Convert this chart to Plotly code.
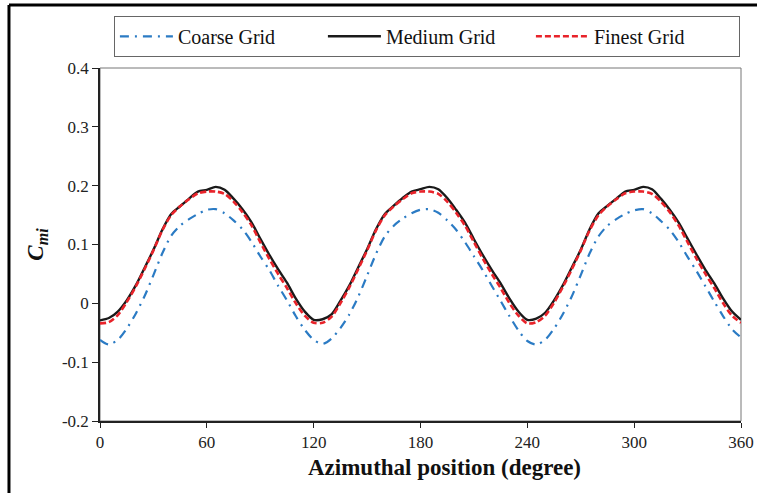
import plotly.graph_objects as go

# Azimuthal position (degree), sampled every 5 degrees over one revolution
azimuth = list(range(0, 365, 5))

# Moment coefficient C_mi for each grid resolution
coarse_grid = [
    -0.062, -0.070, -0.062, -0.043, -0.018, 0.012, 0.048, 0.085, 0.115, 0.132, 0.143, 0.152, 0.159,
    0.160, 0.153, 0.141, 0.126, 0.105, 0.080, 0.057, 0.030, 0.005, -0.022, -0.045,
    -0.062, -0.069, -0.060, -0.042, -0.019, 0.011, 0.047, 0.084, 0.114, 0.132, 0.144, 0.153, 0.159,
    0.160, 0.154, 0.141, 0.125, 0.104, 0.080, 0.056, 0.030, 0.004, -0.022, -0.046,
    -0.064, -0.070, -0.062, -0.043, -0.018, 0.012, 0.048, 0.085, 0.114, 0.132, 0.143, 0.152, 0.158,
    0.160, 0.153, 0.140, 0.125, 0.104, 0.079, 0.055, 0.029, 0.003, -0.022, -0.044, -0.058,
]
medium_grid = [
    -0.029, -0.025, -0.014, 0.005, 0.030, 0.060, 0.091, 0.125, 0.152, 0.165, 0.178, 0.190, 0.193,
    0.198, 0.193, 0.178, 0.160, 0.138, 0.110, 0.083, 0.058, 0.035, 0.008, -0.014,
    -0.028, -0.027, -0.019, 0.004, 0.030, 0.061, 0.092, 0.126, 0.152, 0.166, 0.179, 0.190, 0.194,
    0.198, 0.194, 0.179, 0.159, 0.137, 0.109, 0.082, 0.057, 0.034, 0.008, -0.014,
    -0.028, -0.026, -0.016, 0.005, 0.031, 0.061, 0.091, 0.126, 0.153, 0.166, 0.178, 0.190, 0.193,
    0.198, 0.194, 0.178, 0.159, 0.137, 0.110, 0.083, 0.057, 0.034, 0.008, -0.014, -0.028,
]
finest_grid = [
    -0.034, -0.032, -0.020, 0.002, 0.028, 0.058, 0.090, 0.124, 0.150, 0.165, 0.177, 0.187, 0.190,
    0.190, 0.186, 0.173, 0.155, 0.133, 0.104, 0.076, 0.050, 0.026, 0.000, -0.021,
    -0.033, -0.033, -0.023, 0.000, 0.027, 0.058, 0.090, 0.124, 0.150, 0.165, 0.177, 0.187, 0.190,
    0.190, 0.186, 0.173, 0.154, 0.132, 0.104, 0.076, 0.050, 0.026, 0.000, -0.021,
    -0.034, -0.032, -0.021, 0.001, 0.028, 0.058, 0.090, 0.124, 0.150, 0.165, 0.177, 0.187, 0.190,
    0.190, 0.186, 0.173, 0.155, 0.132, 0.104, 0.076, 0.050, 0.026, 0.000, -0.021, -0.033,
]

x_ticks = [0, 60, 120, 180, 240, 300, 360]
y_ticks = [-0.2, -0.1, 0, 0.1, 0.2, 0.3, 0.4]
y_tick_labels = ["-0.2", "-0.1", "0", "0.1", "0.2", "0.3", "0.4"]

SERIF = "Liberation Serif"

fig = go.Figure()
fig.add_trace(go.Scatter(
    x=azimuth, y=coarse_grid, name="Coarse Grid", mode="lines",
    line=dict(color="#2b7bc4", width=2.2, dash="9px,6px,2px,6px", shape="spline", smoothing=0.8),
))
fig.add_trace(go.Scatter(
    x=azimuth, y=medium_grid, name="Medium Grid", mode="lines",
    line=dict(color="#1a1a1a", width=2.4, shape="spline", smoothing=0.8),
))
fig.add_trace(go.Scatter(
    x=azimuth, y=finest_grid, name="Finest Grid", mode="lines",
    line=dict(color="#e8232a", width=2.6, dash="6px,3px", shape="spline", smoothing=0.8),
))

fig.update_layout(
    width=757, height=493,
    margin=dict(l=100, r=16, t=68, b=72, autoexpand=False),
    paper_bgcolor="white", plot_bgcolor="white",
    font=dict(family=SERIF, size=17, color="#222"),
    showlegend=True,
    legend=dict(
        orientation="h", xref="paper", x=0.51, xanchor="center",
        yref="container", y=0.968, yanchor="top",
        bordercolor="#666", borderwidth=1, bgcolor="white",
        font=dict(family=SERIF, size=20, color="#111"),
        entrywidth=140, itemwidth=53,
    ),
    xaxis=dict(
        range=[0, 360], tickvals=x_ticks, ticks="outside", ticklen=5, tickwidth=1.2,
        tickcolor="#222", showline=True, linecolor="#222", linewidth=1.5,
        showgrid=False, zeroline=False,
        tickfont=dict(family=SERIF, size=17, color="#222"),
    ),
    yaxis=dict(
        range=[-0.2, 0.4], tickvals=y_ticks, ticktext=y_tick_labels,
        ticks="outside", ticklen=6, tickwidth=1.2, tickcolor="#222",
        showline=True, linecolor="#222", linewidth=1.5,
        showgrid=False, zeroline=False,
        tickfont=dict(family=SERIF, size=17, color="#222"),
        title=dict(text="<b><i>C<sub>mi</sub></i></b>", standoff=12,
                   font=dict(family=SERIF, size=23, color="#111")),
    ),
    annotations=[
        # x-axis title, set slightly right of the plot centre
        dict(text="<b>Azimuthal position (degree)</b>", xref="paper", yref="paper",
             x=0.538, y=-0.133, xanchor="center", yanchor="middle", showarrow=False,
             font=dict(family=SERIF, size=23, color="#111")),
    ],
    shapes=[
        # thin box around the plotting area
        dict(type="rect", xref="paper", yref="paper", x0=0, x1=1, y0=0, y1=1,
             line=dict(color="#777", width=1), layer="below"),
        # outer figure frame (top and left edges)
        dict(type="line", xref="paper", yref="paper", x0=-0.142, x1=1.1, y0=1.1785, y1=1.1785,
             line=dict(color="black", width=3)),
        dict(type="line", xref="paper", yref="paper", x0=-0.142, x1=-0.142, y0=-0.3, y1=1.1785,
             line=dict(color="black", width=3)),
    ],
)

fig.write_html("out.html")
